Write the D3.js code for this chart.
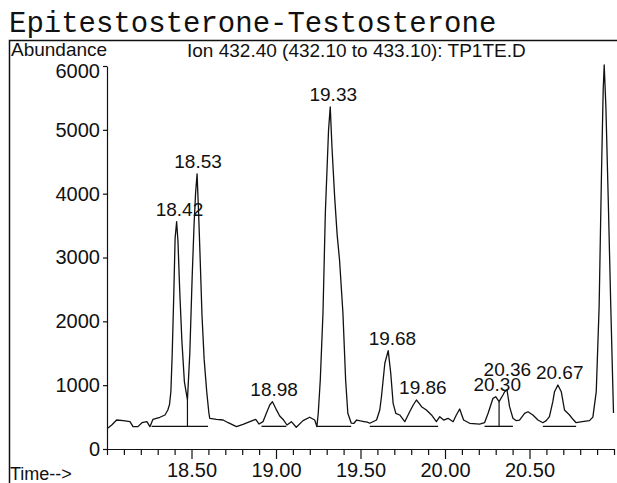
<!DOCTYPE html>
<html><head><meta charset="utf-8">
<script src="https://cdn.jsdelivr.net/npm/d3@7"></script>
<style>body{margin:0;background:#fff} svg{display:block}</style>
</head><body><svg id="c" width="617" height="483"></svg>
<script>
const title = "Epitestosterone-Testosterone";
const yLabel = "Abundance";
const ionLabel = "Ion 432.40 (432.10 to 433.10): TP1TE.D";
const xLabel = "Time-->";
const xTickValues = [18.5, 19.0, 19.5, 20.0, 20.5];
const yTickValues = [0, 1000, 2000, 3000, 4000, 5000, 6000];

const retentionTimes = [
18.006,18.028,18.057,18.096,18.136,18.154,18.183,18.207,18.236,18.254,
18.272,18.313,18.343,18.360,18.370,18.378,18.386,18.395,18.403,18.412,
18.420,18.430,18.443,18.458,18.476,18.490,18.504,18.515,18.524,18.533,
18.542,18.551,18.562,18.575,18.590,18.603,18.608,18.648,18.687,18.717,
18.766,18.805,18.845,18.880,18.900,18.923,18.943,18.963,18.979,18.998,
19.022,19.045,19.065,19.091,19.120,19.160,19.199,19.229,19.242,19.250,
19.262,19.278,19.292,19.300,19.311,19.321,19.331,19.347,19.362,19.376,
19.396,19.412,19.425,19.445,19.460,19.477,19.500,19.520,19.540,19.555,
19.595,19.614,19.624,19.644,19.664,19.679,19.693,19.709,19.732,19.762,
19.791,19.812,19.831,19.847,19.861,19.890,19.920,19.949,19.969,19.992,
20.018,20.048,20.067,20.087,20.110,20.146,20.205,20.234,20.255,20.284,
20.300,20.320,20.343,20.353,20.367,20.382,20.402,20.422,20.441,20.471,
20.491,20.520,20.550,20.579,20.599,20.618,20.638,20.648,20.668,20.688,
20.707,20.737,20.757,20.776,20.812,20.855,20.875,20.895,20.912,20.926,
20.936,20.942,20.952,20.967,20.981,20.997
];
const abundances = [
329,376,454,444,428,350,350,412,428,350,
465,497,533,611,700,900,1500,2400,3300,3560,
3250,2500,1700,1050,770,1500,2700,3500,4000,4310,
3700,3000,2100,1400,900,560,481,465,454,412,
350,386,428,465,391,428,559,689,741,637,
517,454,376,428,340,444,497,454,350,560,
1080,2130,3700,4250,5000,5360,4740,3950,3350,2960,
2130,1080,560,407,400,454,440,430,420,403,
454,611,819,1343,1540,1186,716,559,533,428,
584,689,768,716,663,611,533,428,506,454,
481,428,533,627,454,403,391,412,559,794,
819,741,846,898,924,663,481,444,454,559,
584,533,454,412,444,506,741,898,1003,898,
611,533,465,412,428,444,500,900,2229,4324,
5624,6016,5363,3796,2229,564
];

const peakLabels = ["18.42","18.53","18.98","19.33","19.68","19.86","20.30","20.36","20.67"];
const integrationStarts = [18.264, 18.914, 19.239, 19.555, 20.234, 20.579];
const integrationEnds   = [18.598, 19.061, 19.445, 19.959, 20.402, 20.776];
const integrationLevel = 355;
const dropLineTimes = [18.476, 20.320];

const svg = d3.select("#c");
const W = 617, H = 483;
const x = d3.scaleLinear().domain([18.0, 21.0]).range([107, 614]);
const y = d3.scaleLinear().domain([0, 6000]).range([449, 66]);
const sans = "'Liberation Sans', Arial, Helvetica, sans-serif";
const ink = "#111";

svg.append("rect").attr("width", W).attr("height", H).attr("fill", "#fff");

// title
svg.append("text").attr("x", 9).attr("y", 32)
  .attr("font-family", "'Liberation Mono', 'Courier New', monospace")
  .attr("font-size", 29).attr("fill", ink).text(title);

// frame
svg.append("path").attr("d", `M9.5,${H}V40.5H${W}`)
  .attr("fill", "none").attr("stroke", ink).attr("stroke-width", 1.5);

svg.append("text").attr("x", 11).attr("y", 56).attr("font-family", sans)
  .attr("font-size", 19).attr("fill", ink).text(yLabel);
svg.append("text").attr("x", 187).attr("y", 57).attr("font-family", sans)
  .attr("font-size", 19).attr("fill", ink).text(ionLabel);
svg.append("text").attr("x", 10).attr("y", 480).attr("font-family", sans)
  .attr("font-size", 18).attr("fill", ink).text(xLabel);

// axes
const minorTicks = x.ticks(30).filter(v => !xTickValues.some(m => Math.abs(m - v) < 1e-6));
const gxMinor = svg.append("g").attr("transform", `translate(0,${y(0)})`)
  .call(d3.axisBottom(x).tickValues(minorTicks).tickSize(6).tickSizeOuter(0).tickFormat(""));
const gx = svg.append("g").attr("transform", `translate(0,${y(0)})`)
  .call(d3.axisBottom(x).tickValues(xTickValues).tickSize(10).tickSizeOuter(0)
    .tickPadding(4).tickFormat(d3.format(".2f")));
const gy = svg.append("g").attr("transform", `translate(${x(18.0)},0)`)
  .call(d3.axisLeft(y).tickValues(yTickValues).tickSize(4).tickSizeOuter(0)
    .tickPadding(3).tickFormat(d3.format("d")));
[gxMinor, gx, gy].forEach(g => {
  g.selectAll("path,line").attr("stroke", ink).attr("stroke-width", 1.2);
  g.selectAll("text").attr("font-family", sans).attr("font-size", 20).attr("fill", ink);
});
gy.selectAll(".tick").filter(d => d === 6000).select("text").attr("dy", "0.55em");

// chromatogram trace
const pts = retentionTimes.map((t, i) => [t, abundances[i]]);
svg.append("path").datum(pts)
  .attr("d", d3.line().x(d => x(d[0])).y(d => y(d[1])))
  .attr("fill", "none").attr("stroke", ink).attr("stroke-width", 1.3)
  .attr("stroke-linejoin", "round");

// integration baselines
integrationStarts.forEach((s, i) => {
  svg.append("line").attr("x1", x(s)).attr("x2", x(integrationEnds[i]))
    .attr("y1", y(integrationLevel)).attr("y2", y(integrationLevel))
    .attr("stroke", ink).attr("stroke-width", 1.3);
});
const interp = t => {
  const i = d3.bisector(d => d[0]).left(pts, t);
  if (i <= 0) return pts[0][1];
  if (i >= pts.length) return pts[pts.length - 1][1];
  const a = pts[i - 1], b = pts[i];
  return a[1] + (b[1] - a[1]) * (t - a[0]) / (b[0] - a[0]);
};
dropLineTimes.forEach(t => {
  svg.append("line").attr("x1", x(t)).attr("x2", x(t))
    .attr("y1", y(integrationLevel)).attr("y2", y(interp(t)))
    .attr("stroke", ink).attr("stroke-width", 1.2);
});

// peak labels
const placed = [];
peakLabels.forEach(lbl => {
  const t = +lbl;
  const near = pts.filter(p => Math.abs(p[0] - t) <= 0.03);
  const apex = d3.max(near, p => p[1]);
  const cx = x(t) + 1.5;
  let base = y(apex) - 6;
  const txt = svg.append("text").attr("x", cx).attr("text-anchor", "middle")
    .attr("font-family", sans).attr("font-size", 19).attr("fill", ink).text(lbl);
  const w = txt.node().getComputedTextLength();
  const box = () => ({x0: cx - w / 2, x1: cx + w / 2, y0: base - 14, y1: base});
  let b = box();
  placed.forEach(o => {
    if (b.x0 < o.x1 && b.x1 > o.x0 && b.y0 < o.y1 && b.y1 > o.y0) {
      base = o.y1 - 15; b = box();
    }
  });
  txt.attr("y", base);
  placed.push(b);
});
</script>
</body></html>
